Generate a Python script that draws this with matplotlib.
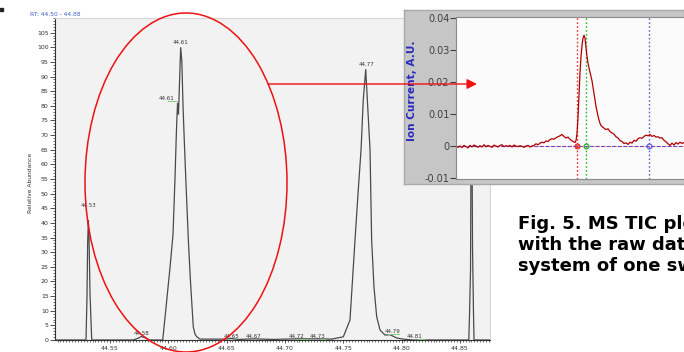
import numpy as np
import matplotlib
matplotlib.use("Agg")
import matplotlib.pyplot as plt
from matplotlib.ticker import MultipleLocator, FormatStrFormatter
from matplotlib.patches import Ellipse, FancyArrowPatch, Rectangle

# ---------------- data: MS TIC chromatogram ----------------
tic_rt = [44.5028, 44.5294, 44.5302, 44.5308, 44.5314, 44.5320, 44.5328, 44.5343,
          44.5700, 44.5740, 44.5770, 44.5800, 44.5840,
          44.5952, 44.5980, 44.6015, 44.6040, 44.6057, 44.6070, 44.6079, 44.6087,
          44.6096, 44.6106, 44.6116, 44.6126, 44.6137, 44.6152, 44.6172, 44.6190,
          44.6214, 44.6229, 44.6244, 44.6272,
          44.6486, 44.6540, 44.6600, 44.6730, 44.6900, 44.7100, 44.7280,
          44.7401, 44.7501, 44.7558, 44.7601, 44.7627, 44.7653, 44.7672, 44.7693,
          44.7707, 44.7730, 44.7744, 44.7764, 44.7787, 44.7816, 44.7858, 44.7901,
          44.7959, 44.8013, 44.8099,
          44.8577, 44.8583, 44.8592, 44.8600, 44.8609, 44.8617, 44.8622, 44.8759]
tic_abund = [0, 0, 14, 33, 41, 35, 16, 0,
             0, 0.6, 1.2, 0.8, 0,
             0, 11, 25, 36, 55, 72, 81, 77,
             88, 100, 95, 80, 68, 53, 34, 20,
             4.5, 2, 1.1, 0.3,
             0.3, 0.5, 0.2, 0.4, 0.2, 0.4, 0.4,
             0.3, 1.1, 6.8, 34, 50, 65, 82, 92.5,
             82, 65, 34, 18, 8, 3.4, 1.7, 1.8,
             0.7, 0.3, 0,
             0, 8, 24, 108, 32, 10, 0, 0]

peak_label_rt = [44.5316, 44.5770, 44.5985, 44.6109, 44.6542, 44.6732,
                 44.7101, 44.7284, 44.7696, 44.7927, 44.8116]
peak_label_y = [46, 2.2, 82.6, 101.7, 1.1, 1.1, 1.1, 1.1, 94, 2.8, 1.1]
peak_label_text = ["44.53", "44.58", "44.61", "44.61", "44.65", "44.67",
                   "44.72", "44.73", "44.77", "44.79", "44.81"]

x_ticks = [44.55, 44.60, 44.65, 44.70, 44.75, 44.80, 44.85]
y_ticks = list(range(0, 110, 5))

# ---------------- data: inset ion current ----------------
ion_t = list(range(0, 78, 2)) + list(range(78, 119, 2)) + list(range(119, 146)) + list(range(146, 229, 2))
ion_current = [
    0.0002, -0.0003, 0.0001, -0.0004, 0.0003, -0.0001, -0.0005, 0.0003, -0.0002, 0.0004,
    0.0001, -0.0003, 0.0002, -0.0002, 0.0005, -0.0001, 0.0003, 0.0000, -0.0003, 0.0004,
    0.0001, -0.0002, 0.0003, 0.0005, -0.0001, 0.0002, 0.0000, 0.0003, -0.0002, 0.0004,
    0.0001, -0.0001, 0.0002, 0.0000, -0.0003, 0.0001, 0.0003, -0.0002, 0.0001,
    0.0003, 0.0008, 0.0005, 0.0010, 0.0013, 0.0011, 0.0017, 0.0015, 0.0021, 0.0024,
    0.0022, 0.0027, 0.0030, 0.0033, 0.0037, 0.0031, 0.0026, 0.0029, 0.0022, 0.0017, 0.0014,
    0.0012, 0.0018, 0.0040, 0.0090, 0.0160, 0.0230, 0.0280, 0.0315, 0.0338, 0.0347,
    0.0338, 0.0310, 0.0280, 0.0260, 0.0245, 0.0232, 0.0220, 0.0205, 0.0185, 0.0165,
    0.0145, 0.0125, 0.0110, 0.0095, 0.0082, 0.0072, 0.0065,
    0.0062, 0.0057, 0.0052, 0.0055, 0.0046, 0.0042, 0.0038, 0.0030, 0.0026, 0.0018,
    0.0015, 0.0009, 0.0011, 0.0006, 0.0013, 0.0010, 0.0019, 0.0016, 0.0024, 0.0027,
    0.0025, 0.0031, 0.0035, 0.0033, 0.0037, 0.0031, 0.0034, 0.0029, 0.0030, 0.0026,
    0.0027, 0.0019, 0.0014, 0.0008, 0.0003, 0.0010, 0.0004, 0.0012, 0.0007, 0.0013,
    0.0009, 0.0012]
cursor_t = [121.3, 130.0, 192.7]
cursor_colors = ["#e03030", "#30b030", "#6060e0"]
inset_ticks = [-0.01, 0, 0.01, 0.02, 0.03, 0.04]
inset_tick_labels = ["-0.01", "0", "0.01", "0.02", "0.03", "0.04"]

caption_lines = ["Fig. 5. MS TIC plot", "with the raw data", "system of one sw"]

# ---------------- figure ----------------
W, H = 684, 352
fig = plt.figure(figsize=(W / 100, H / 100), dpi=100)
fig.patch.set_facecolor("white")

def fx(px):
    return px / W

def fy(py):
    return 1 - py / H

# main TIC axes
ax = fig.add_axes([fx(55), fy(340), (490 - 55) / W, (340 - 18) / H], zorder=1)
ax.set_facecolor("#f2f2f2")
ax.plot(tic_rt, tic_abund, color="#4a4a4a", lw=0.9, solid_joinstyle="miter")
ax.set_xlim(44.5028, 44.8759)
ax.set_ylim(0, 110)
ax.set_xticks(x_ticks)
ax.set_yticks(y_ticks)
ax.xaxis.set_major_formatter(FormatStrFormatter("%.2f"))
ax.xaxis.set_minor_locator(MultipleLocator(0.0025))
ax.yaxis.set_minor_locator(MultipleLocator(1))
ax.tick_params(which="major", length=3.5, width=0.6, labelsize=4.5,
               colors="#333333", pad=1)
ax.tick_params(which="minor", length=1.6, width=0.5, colors="#333333")
ax.tick_params(axis="x", which="major", length=2.5, pad=1.5)
for s in ["top", "right"]:
    ax.spines[s].set_color("#d6d6d6")
for s in ["left", "bottom"]:
    ax.spines[s].set_color("#333333")
    ax.spines[s].set_linewidth(0.8)
ax.set_ylabel("Relative Abundance", fontsize=4.3, color="#333333", labelpad=3)
ax.yaxis.set_label_coords((33 - 55) / 435, (340 - 183) / 322)
for rt, yv, txt in zip(peak_label_rt, peak_label_y, peak_label_text):
    ax.text(rt, yv, txt, fontsize=4, color="#333333", ha="center", va="center")
# small green peak markers
green_marks = [(44.6000, 44.6072, 81.5), (44.7110, 44.7190, 0.4),
               (44.7300, 44.7340, 0.4), (44.7880, 44.7980, 2.0),
               (44.8140, 44.8200, 0.4)]
for x0, x1, yv in green_marks:
    ax.plot([x0, x1], [yv, yv], color="#7fcf7f", lw=0.7)

# inset frame (gray panel)
frame = fig.add_axes([fx(404), fy(184), (W - 404) / W, (184 - 10) / H], zorder=2)
frame.set_facecolor("#c6c6c6")
frame.set_xticks([])
frame.set_yticks([])
for s in frame.spines.values():
    s.set_color("#a8a8a8")
    s.set_linewidth(1.0)

# inset plot
ax_in = fig.add_axes([fx(456), fy(179), (W - 456) / W, (179 - 16.7) / H], zorder=3)
ax_in.set_facecolor("#fbfbfb")
ax_in.axhline(0, color="#4a4af0", lw=0.8, ls=(0, (3, 2)))
ax_in.axhline(0, color="#e04040", lw=0.8, ls=(2.5, (1.5, 3.5)))
for ct, cc in zip(cursor_t, cursor_colors):
    ax_in.axvline(ct, color=cc, lw=1.0, ls=(0, (1.2, 1.6)))
ax_in.plot(ion_t, ion_current, color="#b00000", lw=0.9)
ax_in.plot([cursor_t[0]], [0], marker="o", ms=3.5, mfc="none", mec=cursor_colors[0], mew=0.8)
ax_in.plot([cursor_t[0]], [0], marker="x", ms=2.5, color=cursor_colors[0], mew=0.7)
ax_in.plot([cursor_t[1]], [0], marker="o", ms=3.5, mfc="none", mec=cursor_colors[1], mew=0.9)
ax_in.plot([cursor_t[2]], [0], marker="o", ms=3.5, mfc="none", mec=cursor_colors[2], mew=0.9)
ax_in.set_xlim(0, 228)
ax_in.set_ylim(-0.0102, 0.0405)
ax_in.set_xticks([])
ax_in.set_yticks(inset_ticks)
ax_in.set_yticklabels(inset_tick_labels)
ax_in.tick_params(axis="y", length=4, width=0.8, labelsize=7, colors="#404040", pad=0.8)
for s in ["left", "top", "bottom"]:
    ax_in.spines[s].set_color("#8a8a8a")
    ax_in.spines[s].set_linewidth(0.8)
ax_in.spines["right"].set_visible(False)
ax_in.set_ylabel("Ion Current, A.U.", fontsize=7.6, fontweight="bold", color="#2a2ac0")
ax_in.yaxis.set_label_coords((417 - 456) / 228, (179 - 91) / (179 - 16.7))

# overlay for annotations
ov = fig.add_axes([0, 0, 1, 1], zorder=5)
ov.set_xlim(0, W)
ov.set_ylim(H, 0)
ov.axis("off")
ov.patch.set_alpha(0)
ov.add_patch(Ellipse((186, 182.5), 202, 339, fill=False, ec="#ee1111", lw=1.1))
ov.add_patch(FancyArrowPatch((268, 84), (477, 84), arrowstyle="-|>,head_length=6,head_width=3",
                             color="#ee1111", lw=1.0, mutation_scale=1, shrinkA=0, shrinkB=0))
ov.text(30, 14.5, "RT: 44.50 - 44.88", fontsize=4.3, color="#4060c8", ha="left", va="center")
ov.add_patch(Rectangle((0, 7.5), 3, 3, color="#222222"))
for i, line in enumerate(caption_lines):
    ov.text(518, 229 + 21 * i, line, fontsize=13, fontweight="bold", color="black",
            ha="left", va="baseline")

fig.savefig("out.png", dpi=100)
